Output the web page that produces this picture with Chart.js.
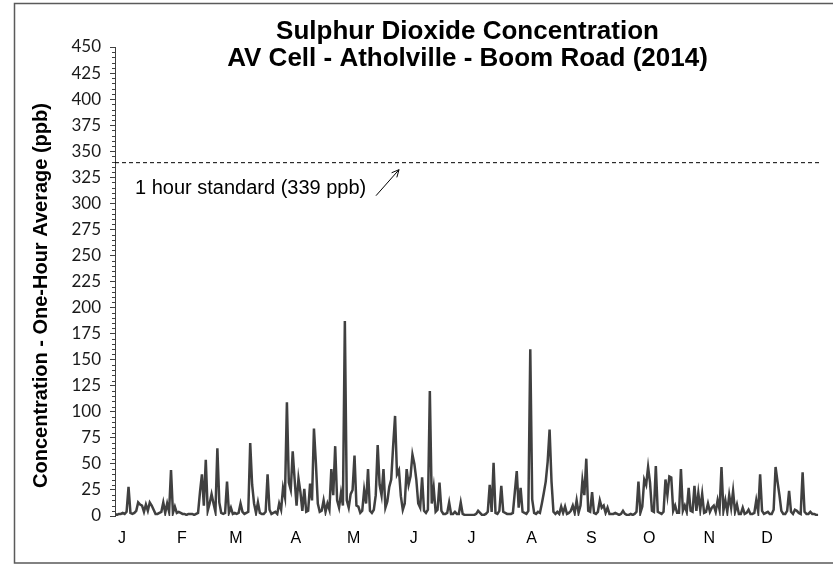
<!DOCTYPE html>
<html>
<head>
<meta charset="utf-8">
<script src="https://cdn.jsdelivr.net/npm/chart.js@4.4.1/dist/chart.umd.min.js"></script>
<style>
  html, body { margin: 0; padding: 0; background: #ffffff; }
  canvas { display: block; }
</style>
</head>
<body>
<canvas id="so2" width="833" height="566"></canvas>
<script>
// Chart text
const titleLines = ['Sulphur Dioxide Concentration', 'AV Cell - Atholville - Boom Road (2014)'];
const yAxisTitle = 'Concentration - One-Hour Average (ppb)';
const standardLabel = '1 hour standard (339 ppb)';

// Axis ticks
const monthLabels = ['J', 'F', 'M', 'A', 'M', 'J', 'J', 'A', 'S', 'O', 'N', 'D'];
const monthStartDays = [0, 31, 59, 90, 120, 151, 181, 212, 243, 273, 304, 334];
const yMax = 450;
const yMajorStep = 25;
const yMinorStep = 5;

// 1 hour SO2 standard (ppb)
const standardPpb = 339;

// Daily peak one-hour SO2 concentration (ppb), one value per day of 2014
const jan = [2, 1, 2, 2, 3, 2, 4, 28, 3, 2, 3, 5, 13, 11, 10, 4, 11, 5, 13, 10, 6, 2, 2, 3, 4, 13, 3, 12, 4, 44, 3];
const feb = [9, 3, 4, 3, 2, 2, 1, 2, 2, 2, 1, 2, 3, 23, 40, 10, 54, 5, 12, 21, 12, 4, 65, 13, 3, 2, 3, 33];
const mar = [3, 8, 2, 3, 2, 3, 12, 4, 2, 3, 4, 70, 30, 12, 3, 13, 3, 2, 2, 4, 40, 6, 2, 3, 4, 2, 12, 6, 27, 18, 109];
const apr = [32, 25, 62, 35, 10, 36, 23, 5, 26, 4, 5, 31, 15, 84, 51, 12, 4, 5, 15, 4, 12, 6, 45, 20, 67, 15, 8, 22, 10, 187];
const may = [15, 8, 21, 25, 58, 10, 9, 3, 5, 25, 12, 45, 5, 3, 6, 20, 68, 30, 20, 45, 8, 14, 28, 35, 67, 96, 40, 44, 19, 6, 12];
const jun = [45, 30, 38, 59, 50, 35, 12, 8, 37, 5, 3, 6, 120, 12, 27, 4, 6, 32, 5, 2, 2, 3, 13, 2, 2, 4, 2, 2, 13, 2];
const jul = [1, 1, 1, 1, 1, 1, 2, 5, 3, 1, 1, 2, 4, 30, 4, 51, 3, 2, 5, 29, 4, 3, 2, 2, 2, 3, 23, 43, 8, 27, 4];
const aug = [3, 2, 5, 160, 16, 3, 2, 4, 3, 12, 22, 33, 52, 83, 33, 4, 2, 4, 2, 9, 3, 9, 2, 3, 5, 10, 3, 15, 3, 10, 34];
const sep = [20, 55, 5, 4, 23, 3, 2, 4, 15, 8, 10, 3, 8, 2, 2, 2, 3, 2, 1, 2, 5, 2, 1, 1, 2, 1, 2, 4, 33, 3];
const oct = [9, 35, 30, 47, 32, 5, 4, 48, 4, 3, 2, 4, 35, 20, 38, 37, 5, 10, 3, 3, 45, 5, 10, 4, 27, 5, 4, 29, 5, 22, 6];
const nov = [21, 3, 4, 12, 4, 8, 10, 4, 15, 6, 47, 5, 15, 4, 20, 8, 24, 4, 11, 2, 2, 8, 2, 3, 6, 2, 2, 3, 15, 4];
const dec = [40, 5, 2, 3, 4, 2, 2, 6, 47, 33, 20, 5, 2, 2, 5, 24, 4, 2, 6, 5, 3, 2, 42, 4, 2, 2, 4, 2, 2, 1, 1];

const dailyPeaks = [].concat(jan, feb, mar, apr, may, jun, jul, aug, sep, oct, nov, dec);
const seriesPoints = dailyPeaks.map((v, day) => ({ x: day, y: v }));
const standardPoints = [{ x: 0, y: standardPpb }, { x: 365, y: standardPpb }];

const INK = '#404040';
const TEXT_FONT = '"Liberation Sans", Arial, sans-serif';

// Frame, titles, minor ticks and the standard's callout
const decorPlugin = {
  id: 'decor',
  beforeDraw(chart) {
    const ctx = chart.ctx;
    ctx.save();
    ctx.fillStyle = '#ffffff';
    ctx.fillRect(0, 0, chart.width, chart.height);
    ctx.restore();
  },
  afterDraw(chart) {
    const ctx = chart.ctx;
    const area = chart.chartArea;
    const y = chart.scales.y;
    ctx.save();

    // outer frame
    ctx.strokeStyle = '#5a5a5a';
    ctx.lineWidth = 1.5;
    ctx.beginPath();
    ctx.moveTo(chart.width + 2, 3.5);
    ctx.lineTo(14.5, 3.5);
    ctx.lineTo(14.5, 563);
    ctx.lineTo(chart.width + 2, 563);
    ctx.stroke();

    // minor ticks on the value axis
    ctx.strokeStyle = INK;
    ctx.lineWidth = 1;
    ctx.beginPath();
    for (let v = 0; v <= yMax; v += yMinorStep) {
      if (v % yMajorStep === 0) continue;
      const py = Math.round(y.getPixelForValue(v)) + 0.5;
      ctx.moveTo(area.left - 3, py);
      ctx.lineTo(area.left, py);
    }
    ctx.stroke();

    // chart title
    const cx = (area.left + area.right) / 2;
    ctx.fillStyle = '#000000';
    ctx.textAlign = 'center';
    ctx.textBaseline = 'alphabetic';
    ctx.font = 'bold 26px ' + TEXT_FONT;
    ctx.fillText(titleLines[0], cx, 39);
    ctx.fillText(titleLines[1], cx, 66);

    // value axis title
    ctx.save();
    ctx.translate(41, (area.top + area.bottom) / 2 + 14);
    ctx.rotate(-Math.PI / 2);
    ctx.font = 'bold 20px ' + TEXT_FONT;
    ctx.textBaseline = 'middle';
    ctx.fillText(yAxisTitle, 0, 0);
    ctx.restore();

    // standard callout text and arrow
    const sy = y.getPixelForValue(standardPpb);
    ctx.font = '20px ' + TEXT_FONT;
    ctx.textAlign = 'left';
    ctx.fillText(standardLabel, 135, sy + 31);

    const x0 = 376, y0 = sy + 33, x1 = 399, y1 = sy + 7;
    ctx.strokeStyle = '#000000';
    ctx.lineWidth = 1;
    ctx.beginPath();
    ctx.moveTo(x0, y0);
    ctx.lineTo(x1, y1);
    const ang = Math.atan2(y1 - y0, x1 - x0);
    const head = 8;
    ctx.moveTo(x1, y1);
    ctx.lineTo(x1 - head * Math.cos(ang - 0.45), y1 - head * Math.sin(ang - 0.45));
    ctx.moveTo(x1, y1);
    ctx.lineTo(x1 - head * Math.cos(ang + 0.45), y1 - head * Math.sin(ang + 0.45));
    ctx.stroke();

    ctx.restore();
  }
};

new Chart(document.getElementById('so2'), {
  type: 'line',
  data: {
    datasets: [
      {
        label: 'SO2',
        data: seriesPoints,
        borderColor: INK,
        borderWidth: 2.5,
        pointRadius: 0,
        tension: 0,
        fill: false
      },
      {
        label: 'Standard',
        data: standardPoints,
        borderColor: '#000000',
        borderWidth: 1,
        borderDash: [4, 3],
        pointRadius: 0,
        tension: 0,
        fill: false
      }
    ]
  },
  options: {
    responsive: false,
    animation: false,
    events: [],
    layout: { padding: { left: 0, top: 47, right: 13, bottom: 0 } },
    plugins: {
      legend: { display: false },
      title: { display: false },
      tooltip: { enabled: false }
    },
    scales: {
      x: {
        type: 'linear',
        min: 0,
        max: 365,
        grid: { display: false },
        border: { display: false },
        afterBuildTicks(axis) {
          axis.ticks = monthStartDays.map(v => ({ value: v }));
        },
        afterFit(axis) { axis.height = 50; },
        ticks: {
          autoSkip: false,
          maxRotation: 0,
          padding: 5,
          labelOffset: 7,
          color: '#000000',
          font: { family: TEXT_FONT, size: 16 },
          callback(value, index) { return monthLabels[index]; }
        }
      },
      y: {
        min: 0,
        max: yMax,
        grid: {
          display: true,
          drawOnChartArea: false,
          drawTicks: true,
          tickLength: 5,
          color: INK
        },
        border: { display: true, color: INK, width: 1 },
        afterFit(axis) { axis.width = 115; },
        ticks: {
          stepSize: yMajorStep,
          padding: 9,
          color: '#1a1a1a',
          font: { family: '"Liberation Sans Narrow", Lato, sans-serif', size: 17 }
        }
      }
    }
  },
  plugins: [decorPlugin]
});
</script>
</body>
</html>
